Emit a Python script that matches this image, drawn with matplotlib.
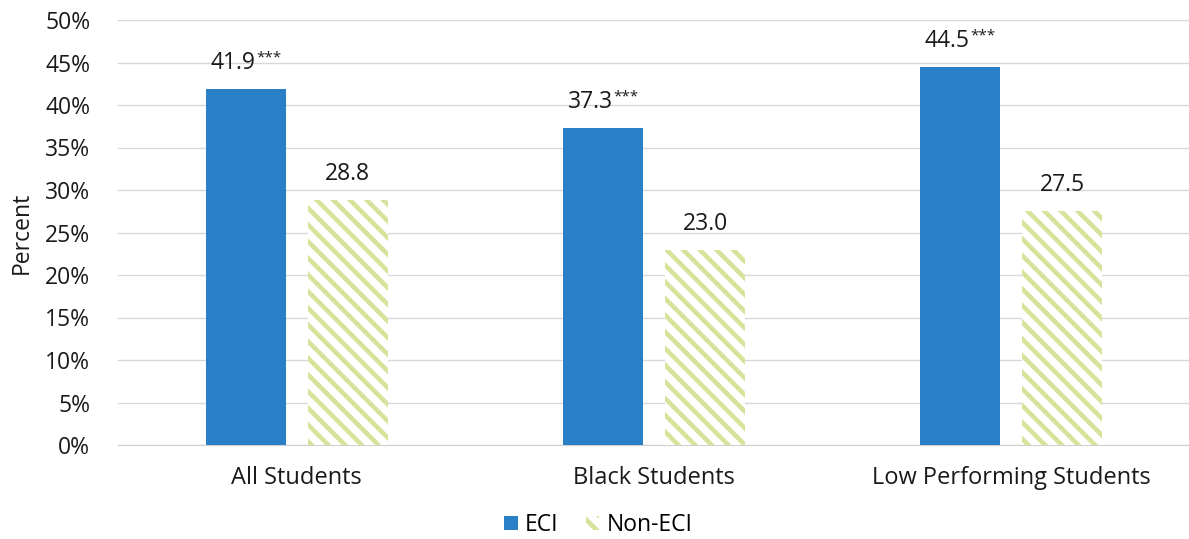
import numpy as np
import matplotlib.pyplot as plt

plt.rcParams['font.family'] = ['Open Sans', 'DejaVu Sans']
plt.rcParams['hatch.linewidth'] = 3.3

groups = ['All Students', 'Black Students', 'Low Performing Students']
eci = [41.9, 37.3, 44.5]
non_eci = [28.8, 23.0, 27.5]
eci_stars = ['***', '***', '***']
yticks = [0, 5, 10, 15, 20, 25, 30, 35, 40, 45, 50]

BLUE = '#2980c6'
GREEN = '#d7e39a'
INK = '#1a1a1a'
FS = 16.5

fig = plt.figure(figsize=(11.89, 5.39), dpi=100)
ax = fig.add_axes([118 / 1189, 1 - 445 / 539, 1072 / 1189, 425 / 539])

x = np.arange(len(groups))
w = 0.224
off = 0.143

ax.bar(x - off, eci, w, color=BLUE, label='ECI', zorder=3)
ax.bar(x + off, non_eci, w, color='white', edgecolor=GREEN, hatch='\\\\',
       linewidth=0, label='Non-ECI', zorder=3)

# value labels, stars as a small superscript after the number
for xi, v, s in zip(x, eci, eci_stars):
    ax.annotate(f'{v:.1f}', (xi - off, v), xytext=(7, 10), textcoords='offset points',
                ha='right', va='bottom', fontsize=FS, color=INK)
    ax.annotate(s, (xi - off, v), xytext=(7.5, 17), textcoords='offset points',
                ha='left', va='bottom', fontsize=11, color=INK)
for xi, v in zip(x, non_eci):
    ax.annotate(f'{v:.1f}', (xi + off, v), xytext=(0, 10), textcoords='offset points',
                ha='center', va='bottom', fontsize=FS, color=INK)

ax.set_xlim(-0.5, 2.5)
ax.set_ylim(0, 50)
ax.set_yticks(yticks)
ax.set_yticklabels([f'{t}%' for t in yticks])
ax.set_xticks(x)
ax.set_xticklabels(groups)
ax.tick_params(length=0, labelsize=FS, colors=INK)
ax.tick_params(axis='x', labelsize=17, pad=15)
ax.tick_params(axis='y', pad=20)
ax.grid(axis='y', color='#d9d9d9', linewidth=1, zorder=0)
for sp in ['top', 'right', 'left']:
    ax.spines[sp].set_visible(False)
ax.spines['bottom'].set_color('#d0d0d0')
ax.set_ylabel('Percent', fontsize=FS, color=INK, labelpad=8)

fig.legend(loc='lower center', bbox_to_anchor=(0.503, -0.035), ncol=2, frameon=False,
           fontsize=FS, handlelength=0.6, handleheight=0.6, handletextpad=0.3,
           columnspacing=1.2)

fig.savefig('out.png', dpi=100)
